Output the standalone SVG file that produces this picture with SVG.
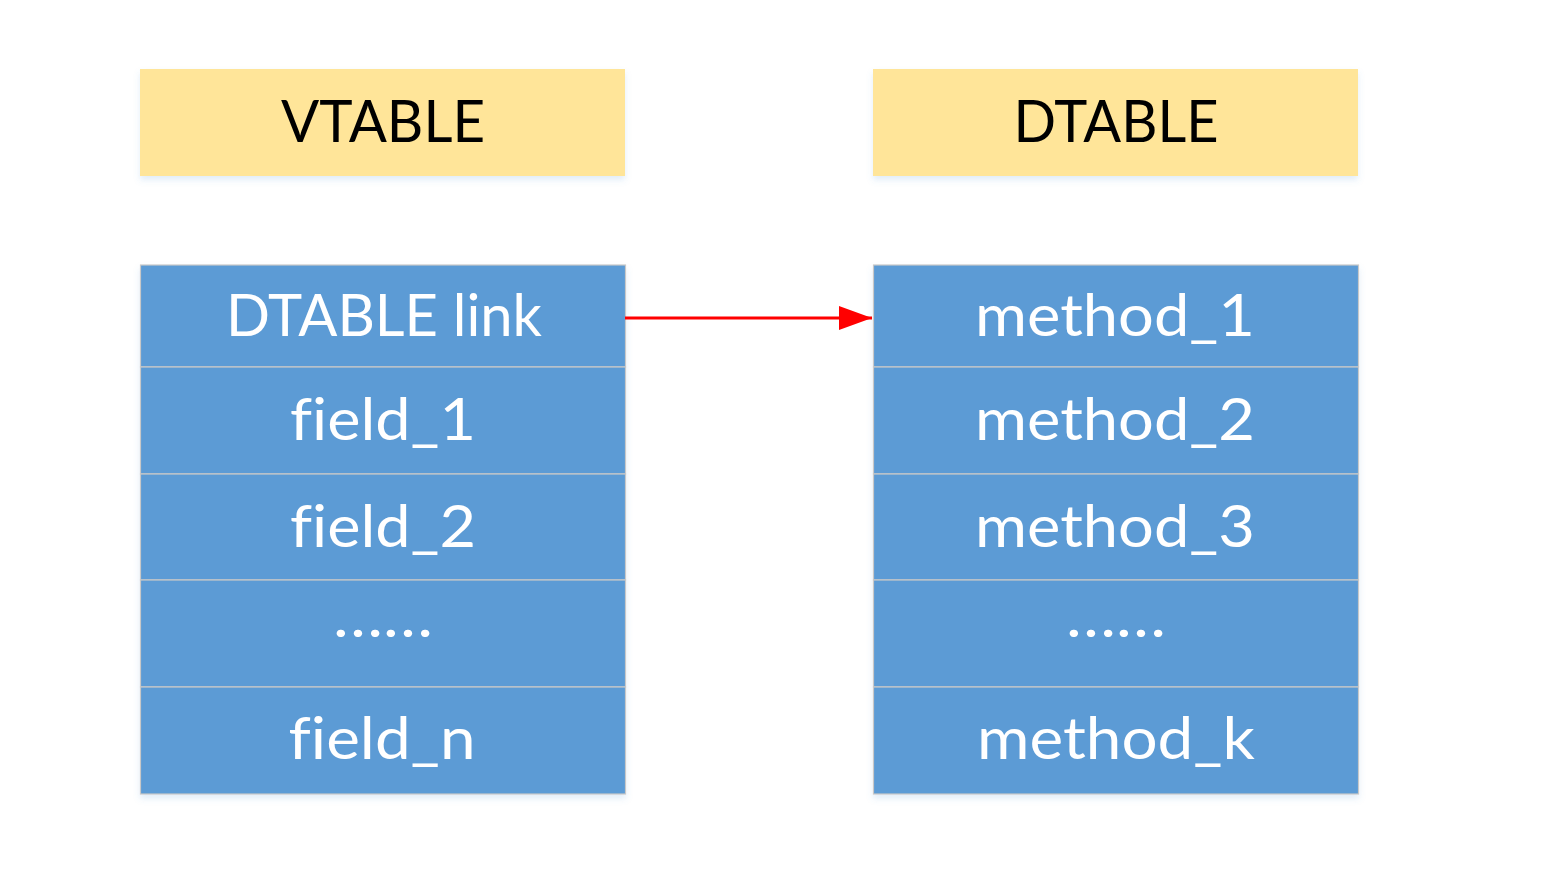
<svg xmlns="http://www.w3.org/2000/svg" width="1557" height="870" viewBox="0 0 1557 870">
  <style>
    .hdr { fill: #FFE599; }
    .cell { fill: #5B9BD5; stroke: #C8C8C8; stroke-width: 1.2; }
    .htxt { font-family: Lato, "Open Sans", sans-serif; font-size: 58px; fill: #000000; text-anchor: middle; font-variant-ligatures: none; }
    .ctxt { font-family: Lato, "Open Sans", sans-serif; font-size: 58px; fill: #FFFFFF; text-anchor: middle; font-variant-ligatures: none; }
  </style>
  <defs>
    <filter id="sh" x="-5%" y="-5%" width="110%" height="115%">
      <feDropShadow dx="0" dy="4" stdDeviation="3" flood-color="#5B9BD5" flood-opacity="0.18"/>
    </filter>
    <marker id="arr" markerWidth="11" markerHeight="8" refX="11" refY="4" orient="auto" markerUnits="strokeWidth">
      <path d="M0,0 L11,4 L0,8 Z" fill="#FF0000"/>
    </marker>
  </defs>
  <rect width="1557" height="870" fill="#FFFFFF"/>

  <g id="vtable-header">
    <rect class="hdr" x="140" y="69" width="485" height="107" filter="url(#sh)"/>
    <text class="htxt" x="383" y="142" textLength="204" lengthAdjust="spacingAndGlyphs">VTABLE</text>
  </g>
  <g id="dtable-header">
    <rect class="hdr" x="873" y="69" width="485" height="107" filter="url(#sh)"/>
    <text class="htxt" x="1116" y="142" textLength="205" lengthAdjust="spacingAndGlyphs">DTABLE</text>
  </g>

  <g id="vtable">
    <g filter="url(#sh)">
      <rect class="cell" x="140.5" y="265" width="485" height="102"/>
      <rect class="cell" x="140.5" y="367" width="485" height="107"/>
      <rect class="cell" x="140.5" y="474" width="485" height="106"/>
      <rect class="cell" x="140.5" y="580" width="485" height="107"/>
      <rect class="cell" x="140.5" y="687" width="485" height="107"/>
    </g>
    <text class="ctxt" x="384" y="336" textLength="316" lengthAdjust="spacingAndGlyphs">DTABLE link</text>
    <text class="ctxt" x="383" y="440" textLength="186" lengthAdjust="spacingAndGlyphs">field_1</text>
    <text class="ctxt" x="383" y="547" textLength="186" lengthAdjust="spacingAndGlyphs">field_2</text>
    <text class="ctxt" x="383" y="637" textLength="100" lengthAdjust="spacingAndGlyphs">……</text>
    <text class="ctxt" x="382" y="759" textLength="187" lengthAdjust="spacingAndGlyphs">field_n</text>
  </g>

  <g id="dtable">
    <g filter="url(#sh)">
      <rect class="cell" x="873.5" y="265" width="485" height="102"/>
      <rect class="cell" x="873.5" y="367" width="485" height="107"/>
      <rect class="cell" x="873.5" y="474" width="485" height="106"/>
      <rect class="cell" x="873.5" y="580" width="485" height="107"/>
      <rect class="cell" x="873.5" y="687" width="485" height="107"/>
    </g>
    <text class="ctxt" x="1115" y="336" textLength="280" lengthAdjust="spacingAndGlyphs">method_1</text>
    <text class="ctxt" x="1115" y="440" textLength="280" lengthAdjust="spacingAndGlyphs">method_2</text>
    <text class="ctxt" x="1115" y="547" textLength="280" lengthAdjust="spacingAndGlyphs">method_3</text>
    <text class="ctxt" x="1116" y="637" textLength="100" lengthAdjust="spacingAndGlyphs">……</text>
    <text class="ctxt" x="1116" y="759" textLength="278" lengthAdjust="spacingAndGlyphs">method_k</text>
  </g>

  <g id="connectors">
    <line x1="625" y1="318" x2="872" y2="318" stroke="#FF0000" stroke-width="3" marker-end="url(#arr)"/>
  </g>
</svg>
